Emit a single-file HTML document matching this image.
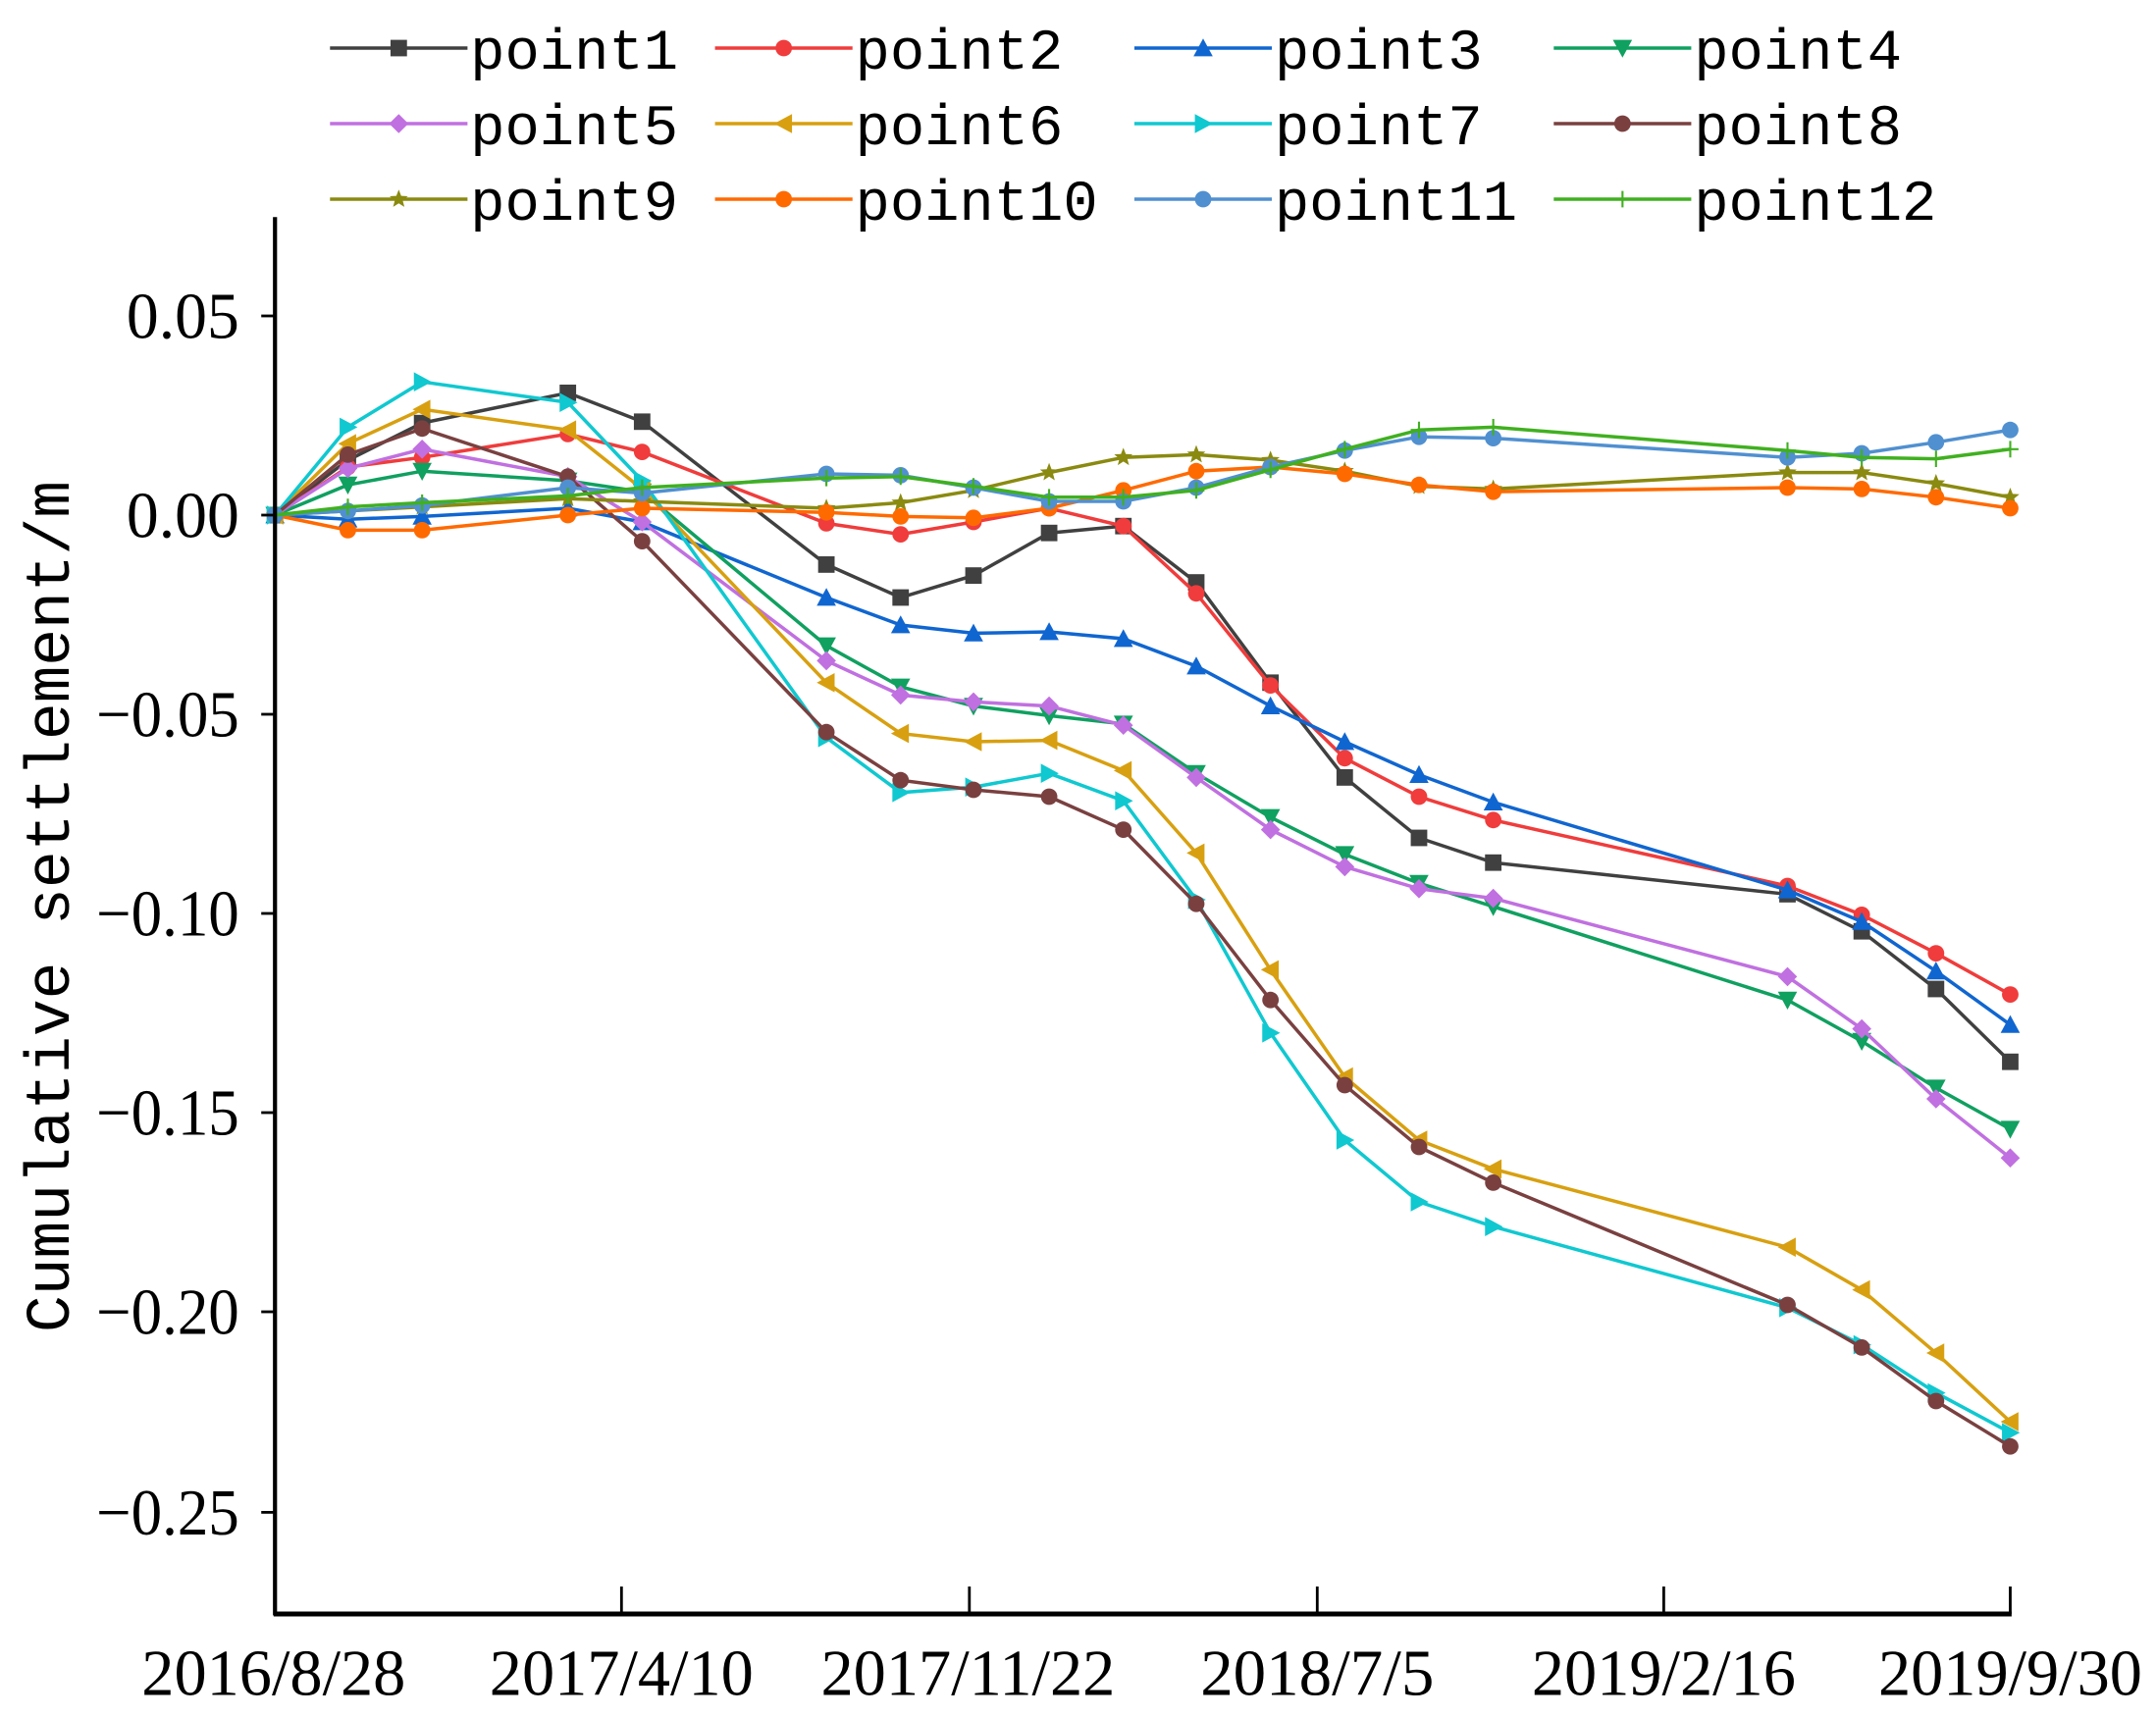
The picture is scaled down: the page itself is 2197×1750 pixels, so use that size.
<!DOCTYPE html>
<html><head><meta charset="utf-8"><style>
html,body{margin:0;padding:0;background:#fff;width:2197px;height:1750px;overflow:hidden}
svg{display:block}
.lg{font-family:"Liberation Mono",monospace;font-size:42px;fill:#000}
.tk{font-family:"Liberation Serif",serif;font-size:48px;fill:#000}
</style></head><body>
<svg width="2197" height="1750" viewBox="0 0 1568 1250" preserveAspectRatio="none" xmlns="http://www.w3.org/2000/svg">
<g id="plot"></g>
<line x1="200" y1="158" x2="200" y2="1176" stroke="#000" stroke-width="3"/>
<line x1="199" y1="1175" x2="1463" y2="1175" stroke="#000" stroke-width="3.5"/>
<g stroke="#000" stroke-width="2">
<line x1="452" y1="1175" x2="452" y2="1155"/><line x1="705" y1="1175" x2="705" y2="1155"/>
<line x1="958" y1="1175" x2="958" y2="1155"/><line x1="1210" y1="1175" x2="1210" y2="1155"/>
<line x1="1462" y1="1175" x2="1462" y2="1155"/>
<line x1="190" y1="230" x2="200" y2="230"/><line x1="190" y1="375" x2="200" y2="375"/>
<line x1="190" y1="520" x2="200" y2="520"/><line x1="190" y1="665" x2="200" y2="665"/>
<line x1="190" y1="810" x2="200" y2="810"/><line x1="190" y1="955" x2="200" y2="955"/>
<line x1="190" y1="1101" x2="200" y2="1101"/>
</g>
<g class="tk" text-anchor="end">
<text x="174" y="246" textLength="82" lengthAdjust="spacingAndGlyphs">0.05</text>
<text x="174" y="391" textLength="82" lengthAdjust="spacingAndGlyphs">0.00</text>
<text x="174" y="536" textLength="104" lengthAdjust="spacingAndGlyphs">−0.05</text>
<text x="174" y="681" textLength="104" lengthAdjust="spacingAndGlyphs">−0.10</text>
<text x="174" y="826" textLength="104" lengthAdjust="spacingAndGlyphs">−0.15</text>
<text x="174" y="971" textLength="104" lengthAdjust="spacingAndGlyphs">−0.20</text>
<text x="174" y="1117" textLength="104" lengthAdjust="spacingAndGlyphs">−0.25</text>
</g>
<g class="tk" text-anchor="middle">
<text x="199" y="1234" textLength="192" lengthAdjust="spacingAndGlyphs">2016/8/28</text>
<text x="452" y="1234" textLength="192" lengthAdjust="spacingAndGlyphs">2017/4/10</text>
<text x="704" y="1234" textLength="214" lengthAdjust="spacingAndGlyphs">2017/11/22</text>
<text x="958" y="1234" textLength="170" lengthAdjust="spacingAndGlyphs">2018/7/5</text>
<text x="1210" y="1234" textLength="192" lengthAdjust="spacingAndGlyphs">2019/2/16</text>
<text x="1462" y="1234" textLength="192" lengthAdjust="spacingAndGlyphs">2019/9/30</text>
</g>
<text class="lg" transform="translate(50,660) rotate(-90)" text-anchor="middle" style="font-size:46px" textLength="620" lengthAdjust="spacingAndGlyphs">Cumulative settlement/m</text>
<g id="legend"></g>
<g class="lg">
<text x="342" y="50">point1</text><text x="622" y="50">point2</text><text x="927" y="50">point3</text><text x="1232" y="50">point4</text>
<text x="342" y="105">point5</text><text x="622" y="105">point6</text><text x="927" y="105">point7</text><text x="1232" y="105">point8</text>
<text x="342" y="160">point9</text><text x="622" y="160">point10</text><text x="927" y="160">point11</text><text x="1232" y="160">point12</text>
</g>
</svg>
<script>
var X=[200,253,307,413,467,601,655,708,763,817,870,924,978,1032,1086,1300,1354,1408,1462];
var S=[
["#404040","sq",[375,335,308,286,307,411,435,419,388,383,424,497,566,610,628,651,678,720,773]],
["#f03c3c","ci",[375,340,333,316,329,381,389,380,370,383,432,499,552,580,597,645,666,694,724]],
["#1066d0","tu",[375,378,376,370,380,435,455,461,460,465,485,514,540,564,584,648,671,707,746]],
["#10a060","td",[375,353,343,350,358,470,500,514,521,527,563,595,622,643,660,728,758,792,822]],
["#c070e0","di",[375,341,327,347,380,481,506,511,514,528,566,604,631,647,654,711,749,800,843]],
["#d8a010","tl",[375,323,298,313,356,497,534,540,539,561,621,706,784,830,851,908,939,985,1035]],
["#10c8d0","tr",[375,311,278,293,350,537,577,573,563,583,655,752,830,875,893,952,979,1014,1043]],
["#7a4040","ci",[375,331,312,347,394,533,568,575,580,604,658,728,790,835,861,950,981,1020,1053]],
["#8a8a10","st",[375,372,369,363,365,370,366,357,344,333,331,335,343,354,356,344,344,352,362]],
["#ff6a00","ci",[375,386,386,375,370,373,376,377,370,357,343,340,345,353,358,355,356,362,370]],
["#5090d0","ci",[375,372,368,355,359,345,346,355,365,365,355,340,328,318,319,333,330,322,313]],
["#40b020","pl",[375,369,366,361,355,348,347,354,362,362,357,342,327,313,311,328,333,334,327]]
];
var ns="http://www.w3.org/2000/svg";
function mk(g,t,c,x,y){var s=6,e;
 if(t=="sq"){e=document.createElementNS(ns,"rect");e.setAttribute("x",x-s);e.setAttribute("y",y-s);e.setAttribute("width",2*s);e.setAttribute("height",2*s);}
 else if(t=="ci"){e=document.createElementNS(ns,"circle");e.setAttribute("cx",x);e.setAttribute("cy",y);e.setAttribute("r",s);}
 else if(t=="pl"){e=document.createElementNS(ns,"path");e.setAttribute("d","M"+(x-s)+","+y+"h"+2*s+"M"+x+","+(y-s)+"v"+2*s);e.setAttribute("stroke",c);e.setAttribute("stroke-width",1.5);g.appendChild(e);return;}
 else{var p;
  if(t=="tu")p=[[0,-7],[7,6],[-7,6]];else if(t=="td")p=[[0,7],[7,-6],[-7,-6]];
  else if(t=="tl")p=[[-7,0],[6,-7],[6,7]];else if(t=="tr")p=[[7,0],[-6,-7],[-6,7]];
  else if(t=="di")p=[[0,-7],[7,0],[0,7],[-7,0]];
  else{p=[];for(var i=0;i<10;i++){var r=i%2?3:7,a=-Math.PI/2+i*Math.PI/5;p.push([r*Math.cos(a),r*Math.sin(a)]);}}
  e=document.createElementNS(ns,"polygon");e.setAttribute("points",p.map(function(q){return (x+q[0])+","+(y+q[1]);}).join(" "));}
 e.setAttribute("fill",c);g.appendChild(e);}
var g=document.getElementById("plot");
S.forEach(function(s){var pl=document.createElementNS(ns,"polyline");
 pl.setAttribute("points",X.map(function(x,i){return x+","+s[2][i];}).join(" "));
 pl.setAttribute("fill","none");pl.setAttribute("stroke",s[0]);pl.setAttribute("stroke-width",2.5);g.appendChild(pl);
 X.forEach(function(x,i){mk(g,s[1],s[0],x,s[2][i]);});});
var L=document.getElementById("legend"),cx=[290,570,875,1180],cy=[35,90,145];
S.forEach(function(s,i){var x=cx[i%4],y=cy[Math.floor(i/4)];
 var l=document.createElementNS(ns,"line");l.setAttribute("x1",x-50);l.setAttribute("x2",x+50);l.setAttribute("y1",y);l.setAttribute("y2",y);
 l.setAttribute("stroke",s[0]);l.setAttribute("stroke-width",2.5);L.appendChild(l);mk(L,s[1],s[0],x,y);});
</script>
</body></html>
